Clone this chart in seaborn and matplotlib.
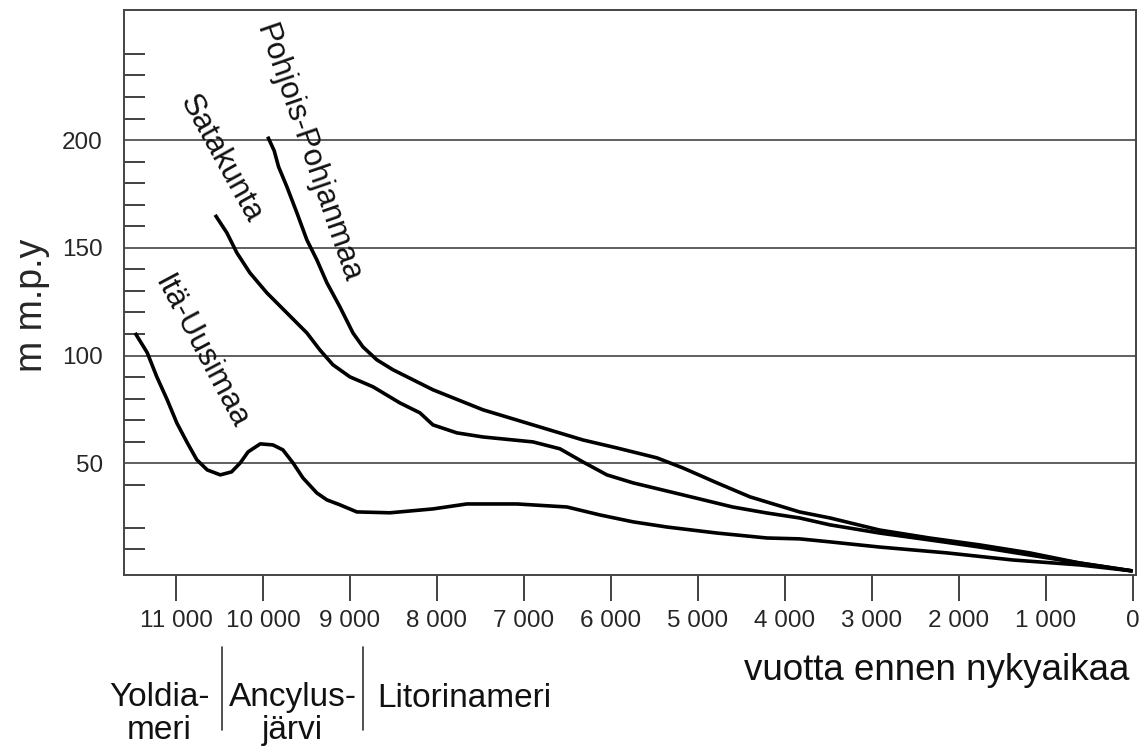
import matplotlib
matplotlib.use("Agg")
import matplotlib.pyplot as plt
import matplotlib.transforms as mtransforms
import seaborn as sns
import pandas as pd

# vuotta ennen nykyaikaa / m m.p.y  (luettu kuvasta)
ita_x = [11470, 11330, 11220, 11100, 10990, 10870, 10760, 10640, 10490, 10360, 10260,
         10170, 10030, 9885, 9770, 9655, 9540, 9380, 9265, 9115, 8920, 8540, 8045,
         7655, 7080, 6505, 6125, 5745, 5355, 4780, 4205, 3830, 3480, 2910, 2140,
         1380, 610, 0]
ita_y = [110.5, 101.3, 90.1, 79.4, 68.7, 59.5, 51.6, 46.9, 44.6, 46, 50.2,
         55.3, 59, 58.5, 56.2, 50.2, 43.2, 36.2, 33, 30.7, 27.4, 27, 28.8,
         31.1, 31.1, 29.7, 26, 22.8, 20.4, 17.6, 15.3, 14.9, 13.5, 11.1, 8.4,
         5.1, 2.8, 0]

sata_x = [10550, 10415, 10300, 10150, 9955, 9725, 9495, 9345, 9195, 9000, 8735,
          8425, 8195, 8045, 7770, 7470, 6895, 6585, 6320, 6045, 5745, 5170, 4600,
          4205, 3830, 3480, 2910, 2335, 1760, 1185, 610, 0]
sata_y = [165.3, 157, 147.7, 138.4, 129.1, 119.8, 110.5, 102.6, 95.7, 90.1, 85.5,
          78, 73.4, 67.8, 64.1, 62.2, 59.9, 56.7, 50.6, 44.6, 40.9, 35.3, 29.7,
          26.9, 24.6, 21.4, 17.6, 14.4, 11.1, 7.4, 3.7, 0]

pohj_x = [9945, 9870, 9820, 9725, 9610, 9495, 9380, 9265, 9115, 8965, 8850, 8690,
          8505, 8045, 7470, 6895, 6320, 5930, 5470, 5170, 4780, 4400, 3830, 3480,
          2910, 2335, 1760, 1185, 610, 0]
pohj_y = [201.6, 195, 187.6, 178.4, 166.3, 153.7, 144.4, 133.8, 122.6, 110.5, 104, 98,
          93.4, 84.1, 74.8, 67.8, 60.8, 57.1, 52.5, 47.8, 40.9, 34.4, 27.4, 24.6,
          19, 15.3, 12.1, 8.4, 3.7, 0]

# nimet käyrien vieressä: teksti, x, y, kulma
nimet = [("Pohjois-Pohjanmaa", 9480, 194, -71),
         ("Satakunta", 10480, 191.5, -61),
         ("Itä-Uusimaa", 10710, 101.7, -62)]

x_ticks = [11000, 10000, 9000, 8000, 7000, 6000, 5000, 4000, 3000, 2000, 1000, 0]
y_ticks = [50, 100, 150, 200]
y_minor = [10, 20, 40, 60, 70, 80, 90, 110, 120, 130, 140, 160, 170, 180, 190,
           210, 220, 230, 240]

# merivaiheet akselin alla: teksti, x, alimman rivin pohjaviiva, tasaus
vaiheet = [("Yoldia-\nmeri", 11195, -0.290, "center"),
           ("Ancylus-\njärvi", 9660, -0.290, "center"),
           ("Litorinameri", 8680, -0.2336, "left")]
rajat = [10470, 8850]

sns.set_style("white")
plt.rcParams['font.family'] = ['Liberation Sans', 'DejaVu Sans']

fig = plt.figure(figsize=(11.46, 7.51), dpi=100)
ax = fig.add_axes([0.108, 0.234, 0.883, 0.753])

df = pd.concat([
    pd.DataFrame({"v": ita_x, "m": ita_y, "alue": "Itä-Uusimaa"}),
    pd.DataFrame({"v": sata_x, "m": sata_y, "alue": "Satakunta"}),
    pd.DataFrame({"v": pohj_x, "m": pohj_y, "alue": "Pohjois-Pohjanmaa"}),
])
for alue, osa in df.groupby("alue"):
    sns.lineplot(data=osa, x="v", y="m", color="black", lw=2.6, ax=ax,
                 sort=False, legend=False, zorder=3,
                 solid_joinstyle="round", solid_capstyle="butt")

for teksti, x, y, kulma in nimet:
    ax.text(x, y, teksti, rotation=kulma, rotation_mode="anchor",
            ha="center", va="center", fontsize=22.5, color="#111111")

ax.set_xlim(11600, -35)
ax.set_ylim(-2, 260.5)

ax.set_xticks(x_ticks)
ax.set_xticklabels([f"{v:,}".replace(",", " ") for v in x_ticks], fontsize=17.5)
ax.set_yticks(y_ticks)
ax.set_yticklabels([str(v) for v in y_ticks], fontsize=17.5)
ax.set_yticks(y_minor, minor=True)
ax.tick_params(axis="x", direction="out", length=19, width=1.3, color="#333333",
               pad=6, bottom=True)
ax.tick_params(axis="y", which="major", length=0, pad=15)
ax.tick_params(axis="y", which="minor", direction="in", length=15, width=1.3,
               color="#333333", left=True)
ax.grid(axis="y", which="major", color="#444444", lw=1.2)
ax.grid(axis="x", visible=False)

for s in ax.spines.values():
    s.set_color("#444444")
    s.set_linewidth(1.4)

ax.set_xlabel("")
ax.set_ylabel("m m.p.y", fontsize=27)
ax.yaxis.set_label_coords(-0.073, 0.478)
ax.text(0.994, -0.186, "vuotta ennen nykyaikaa", transform=ax.transAxes,
        ha="right", va="baseline", fontsize=26.5, color="#111111")

trans = mtransforms.blended_transform_factory(ax.transData, ax.transAxes)
for teksti, x, y, ha in vaiheet:
    ax.text(x, y, teksti, transform=trans, ha=ha, va="baseline",
            fontsize=24, linespacing=1.1, color="#111111")
for x in rajat:
    ax.plot([x, x], [-0.126, -0.274], transform=trans, color="#333333",
            lw=1.2, clip_on=False)

fig.savefig("out.png", dpi=100)
